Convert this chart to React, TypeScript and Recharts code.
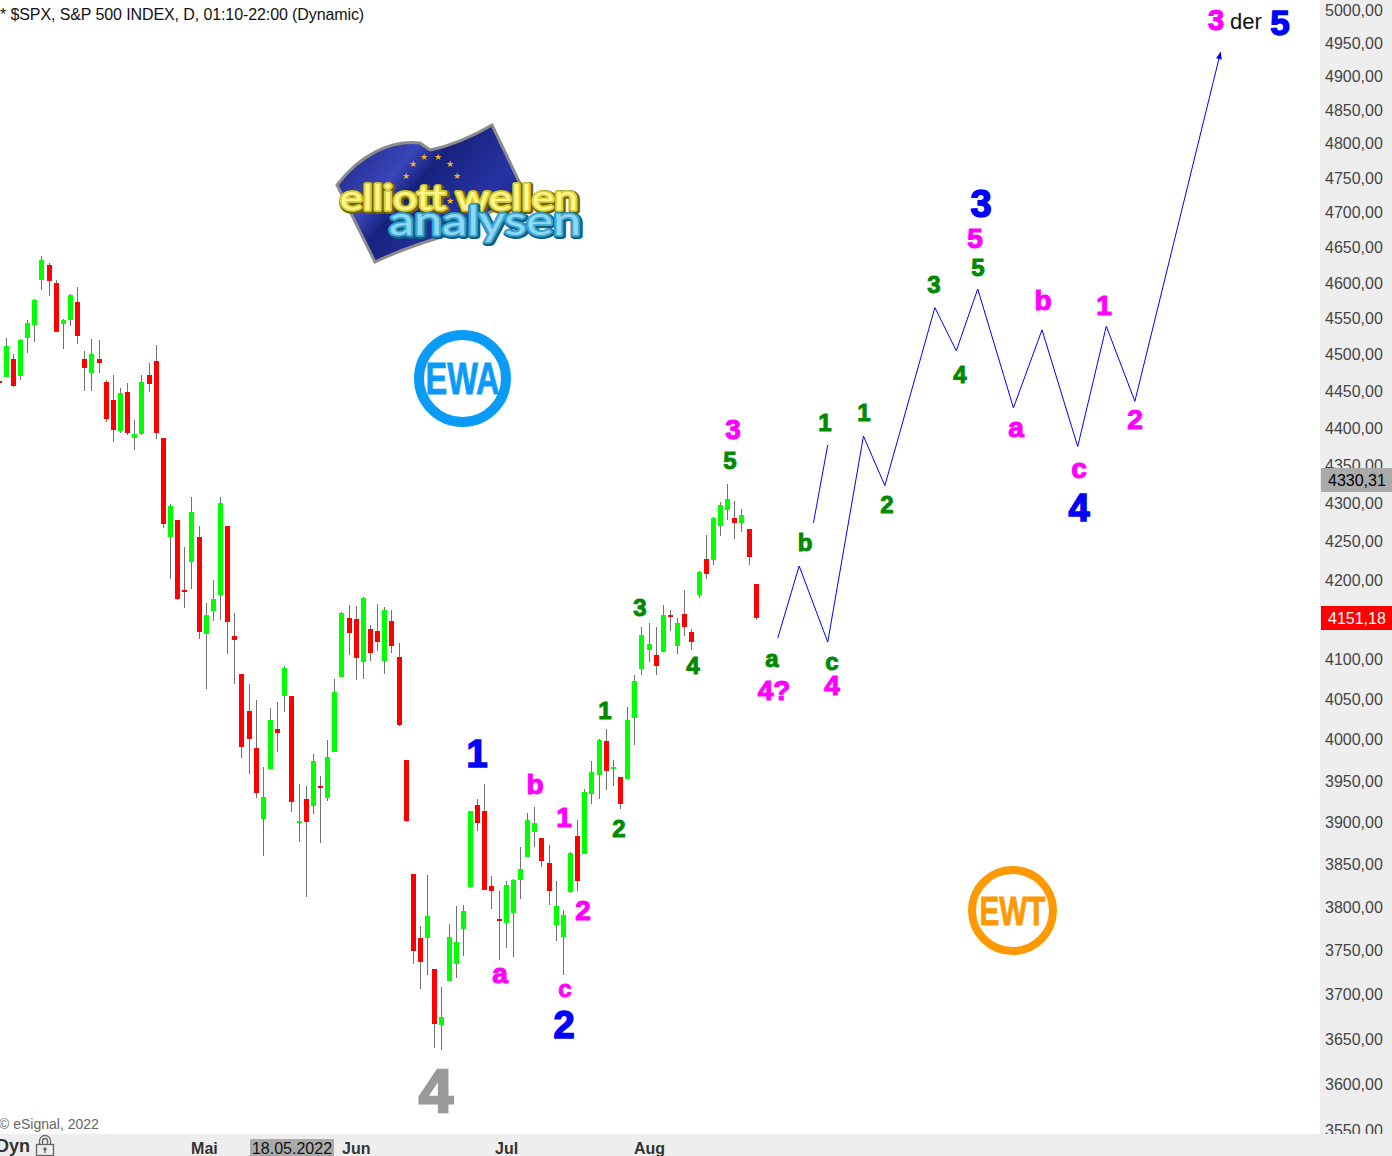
import React from "react";
import { ComposedChart, Bar, Line, XAxis, YAxis } from "recharts";

const opens = [4463,4469,4494,4471,4523,4541,4604,4625,4599,4541,4548,4573,4494,4475,4494,4462,4438,4395,4449,4387,4391,4472,4491,4387,4256,4278,4187,4223,4255,4131,4161,4181,4270,4129,4081,4035,3990,3904,3964,4013,4053,4053,3899,3928,3920,3944,3930,3985,4077,4152,4150,4096,4138,4135,4097,4148,4102,3975,3839,3764,3765,3729,3666,3715,3735,3775,3823,3921,3914,3825,3786,3782,3793,3832,3859,3888,3881,3852,3779,3765,3818,3884,3862,3935,3956,3998,3964,3954,3952,4026,4087,4112,4105,4108,4155,4116,4157,4134,4181,4227,4226,4270,4291,4280,4274,4266,4195];
const highs = [4463,4523,4501,4521,4547,4577,4638,4628,4604,4549,4584,4594,4505,4521,4520,4465,4472,4454,4461,4411,4472,4488,4513,4387,4299,4278,4242,4308,4270,4171,4200,4308,4270,4158,4081,4069,4049,3966,4039,4046,4091,4053,3946,3943,3982,3956,3999,4075,4159,4168,4167,4178,4143,4169,4166,4161,4120,3975,3839,3778,3838,3729,3708,3780,3801,3803,3914,3928,3946,3837,3819,3830,3833,3871,3911,3918,3881,3873,3830,3797,3865,3903,3940,3974,4001,4013,3975,3954,4040,4080,4140,4145,4140,4168,4162,4152,4187,4138,4212,4258,4282,4301,4325,4303,4292,4266,4195];
const lows = [4460,4469,4456,4465,4501,4517,4590,4581,4531,4507,4540,4514,4450,4450,4475,4408,4381,4393,4391,4371,4391,4449,4385,4268,4201,4175,4163,4189,4125,4063,4148,4149,4106,4069,3977,3958,3929,3859,3964,3985,4034,3912,3877,3811,3909,3876,3925,3985,4077,4105,4074,4075,4098,4110,4081,4107,4017,3900,3735,3706,3722,3640,3637,3715,3718,3744,3823,3890,3820,3799,3739,3752,3743,3810,3859,3870,3847,3803,3760,3722,3817,3819,3862,3922,3928,3939,3944,3915,3952,3993,4080,4096,4080,4108,4135,4107,4129,4112,4177,4201,4219,4257,4278,4253,4262,4219,4149];
const closes = [4460,4512,4457,4520,4544,4576,4632,4602,4531,4547,4583,4526,4481,4501,4488,4412,4397,4447,4393,4392,4462,4460,4393,4273,4296,4176,4185,4288,4133,4155,4176,4300,4147,4124,3991,4001,3935,3930,4024,4008,4088,3924,3901,3901,3974,3941,3979,4059,4158,4133,4101,4177,4108,4121,4161,4116,4018,3901,3750,3736,3790,3667,3675,3765,3760,3796,3913,3900,3821,3819,3784,3826,3832,3845,3903,3899,3854,3819,3801,3791,3864,3831,3936,3961,3999,3962,3967,3921,4024,4072,4130,4119,4091,4155,4152,4145,4140,4122,4210,4208,4280,4297,4305,4274,4284,4229,4152];

const forecastSlots = [109,112,116,121,124,131,134,137,142,146,151,155,159,171];
const forecastPrices = [4126,4218,4121,4389,4323,4565,4505,4591,4427,4534,4375,4539,4436,4936];
const altSlots = [114,116];
const altPrices = [4274,4377];

const yTicks = [3550,3600,3650,3700,3750,3800,3850,3900,3950,4000,4050,4100,4150,4200,4250,4300,4350,4400,4450,4500,4550,4600,4650,4700,4750,4800,4850,4900,4950,5000];
const monthSlots = [27,48,69,89];
const monthNames = ["Mai","Jun","Jul","Aug"];
const TOTAL_SLOTS = 185;

const rows = Array.from({ length: TOTAL_SLOTS }, (_, i) => {
  const has = i < opens.length;
  const f = forecastSlots.indexOf(i);
  const a = altSlots.indexOf(i);
  return {
    slot: i,
    open: has ? opens[i] : null,
    close: has ? closes[i] : null,
    range: has ? [lows[i], highs[i]] : null,
    body: has ? [Math.min(opens[i], closes[i]), Math.max(opens[i], closes[i])] : null,
    forecast: f >= 0 ? forecastPrices[f] : null,
    alt: a >= 0 ? altPrices[a] : null,
  };
});

const Wick = (p: any) => {
  if (!p.payload?.range || !isFinite(p.y) || !isFinite(p.height)) return null;
  return <rect x={Math.round(p.x)} y={Math.round(p.y)} width={1} height={Math.max(1, Math.round(p.height))} fill="#707070" shapeRendering="crispEdges" />;
};
const Body = (p: any) => {
  if (!p.payload?.body || !isFinite(p.y) || !isFinite(p.height)) return null;
  const up = p.payload.close >= p.payload.open;
  return <rect x={Math.round(p.x)} y={Math.round(p.y)} width={5} height={Math.max(2, Math.round(p.height))} fill={up ? "#00ff00" : "#ff0000"} shapeRendering="crispEdges" />;
};
const ArrowDot = (p: any) => {
  if (p.payload?.slot !== 171) return <g key={p.index} />;
  const { cx, cy } = p;
  return <polygon key={p.index} points={`${cx},${cy} ${cx - 3},${cy + 7} ${cx + 3},${cy + 7}`} fill="#0000ff" transform={`rotate(13.7 ${cx} ${cy})`} />;
};
const YTick = (p: any) => (
  <text x={p.x} y={p.y + 6} fontFamily="'Liberation Sans', Arial, sans-serif" fontSize={16} fill="#444" clipPath="url(#yclip)">
    {Number(p.payload.value).toFixed(2).replace(".", ",")}
  </text>
);
const XTick = (p: any) => {
  const name = monthNames[monthSlots.indexOf(p.payload.value)];
  const nudge = name === "Jul" ? 3 : name === "Jun" ? 0 : -1;
  return <text x={p.x + nudge} y={1154} fontFamily="'Liberation Sans', Arial, sans-serif" fontWeight="bold" fontSize={16} fill="#333">{name}</text>;
};

const SANS = "'Liberation Sans', Arial, sans-serif";
const Lbl = ({ x, y, t, c, s, w = "bold" }: any) => (
  <div style={{ position: "absolute", left: x - 60, top: y - s, width: 120, height: s * 2, lineHeight: `${s * 2}px`, textAlign: "center", fontFamily: SANS, fontWeight: w as any, fontSize: s, color: c, whiteSpace: "nowrap", WebkitTextStroke: w === "bold" ? `${s * 0.04}px ${c}` : undefined }}>{t}</div>
);
const G = "#008a00", M = "#ff00ff", B = "#0000ff";

const Ring = ({ cx, cy, r, sw, color, t, tw, fs }: any) => (
  <svg style={{ position: "absolute", left: cx - r - 8, top: cy - r - 8 }} width={2 * r + 16} height={2 * r + 16}>
    <circle cx={r + 8} cy={r + 8} r={r - sw / 2} fill="none" stroke={color} strokeWidth={sw} />
    <text x={r + 8} y={r + 8 + fs * 0.35} textAnchor="middle" fontFamily={SANS} fontWeight="bold" fontSize={fs} fill={color} stroke={color} strokeWidth={0.8} textLength={tw} lengthAdjust="spacingAndGlyphs">{t}</text>
  </svg>
);

const Glow = ({ x, y, fs, tw, t, dark, mid, light }: any) => (
  <g fontFamily="Lato, 'Open Sans', sans-serif" fontSize={fs} strokeLinejoin="round" strokeLinecap="round">
    <text x={x + 1} y={y + 1} stroke={dark} strokeWidth={6} fill={dark} textLength={tw} lengthAdjust="spacingAndGlyphs">{t}</text>
    <text x={x} y={y} stroke={mid} strokeWidth={3.6} fill={mid} textLength={tw} lengthAdjust="spacingAndGlyphs">{t}</text>
    <text x={x} y={y} fill={light} textLength={tw} lengthAdjust="spacingAndGlyphs">{t}</text>
  </g>
);

const Logo = () => (
  <svg style={{ position: "absolute", left: 320, top: 115 }} width={280} height={160}>
    <defs>
      <linearGradient id="flagG" x1="0" y1="0" x2="1" y2="0.6">
        <stop offset="0" stopColor="#17207a" />
        <stop offset="0.38" stopColor="#3a46b8" />
        <stop offset="0.5" stopColor="#17227e" />
        <stop offset="0.8" stopColor="#2733a4" />
        <stop offset="1" stopColor="#1b2588" />
      </linearGradient>
    </defs>
    <path d="M17,70 C40,40 70,25 100,28 L110,35 C135,30 155,20 172,10 L207,83 C180,92 160,100 135,118 C110,125 80,135 55,147 Z" fill="url(#flagG)" stroke="#8c8c8c" strokeWidth={3} />
    {[[93,52],[104,45],[118,45],[130,52],[137,64],[130,89],[86,64]].map(([x, y], i) => (
      <text key={i} x={x} y={y} textAnchor="middle" fontSize={9} fontFamily="'DejaVu Sans'" fill="#f0b020">★</text>
    ))}
    <Glow x={20} y={95} fs={35} tw={238} t="elliott wellen" dark="#6e6200" mid="#dccf3c" light="#fff68c" />
    <Glow x={69} y={120} fs={40} tw={192} t="analysen" dark="#0f5f85" mid="#3aa6d6" light="#8fd8f4" />
  </svg>
);

export default function App() {
  return (
    <div style={{ position: "absolute", left: 0, top: 0, width: 1392, height: 1156, overflow: "hidden", background: "#fff" }}>
      <div style={{ position: "absolute", left: 1320, top: 0, width: 72, height: 1156, background: "#eeeeee" }} />
      <div style={{ position: "absolute", left: 0, top: 1134, width: 1392, height: 22, background: "#eeeeee" }} />
      <svg width={0} height={0} style={{ position: "absolute" }}>
        <defs><clipPath id="yclip"><rect x={1320} y={0} width={72} height={1134} /></clipPath></defs>
      </svg>
      <Logo />
      <Ring cx={462.5} cy={378} r={48.5} sw={10} color="#0a9bf7" t="EWA" tw={74} fs={44} />
      <Ring cx={1012.5} cy={910.5} r={44.5} sw={8} color="#ff9900" t="EWT" tw={66} fs={40} />
      <div style={{ position: "absolute", left: 0, top: 0 }}>
        <ComposedChart width={1392} height={1156} data={rows} margin={{ top: 0, right: 0, bottom: 0, left: -4.37 }}>
          <XAxis xAxisId="main" dataKey="slot" type="category" interval={0} ticks={monthSlots} axisLine={false} tickLine={false} tickSize={0} height={22} tick={<XTick />} />
          <XAxis xAxisId="w" dataKey="slot" type="category" hide />
          <YAxis orientation="right" type="number" scale="log" domain={[3545.3, 5015.3]} allowDataOverflow ticks={yTicks} interval={0} width={75} axisLine={false} tickLine={false} tickSize={0} tickMargin={8} tick={<YTick />} />
          <Bar xAxisId="w" dataKey="range" barSize={1} isAnimationActive={false} shape={<Wick />} />
          <Bar xAxisId="main" dataKey="body" barSize={5} isAnimationActive={false} shape={<Body />} />
          <Line xAxisId="main" dataKey="forecast" stroke="#0000ff" strokeWidth={1} connectNulls dot={<ArrowDot />} activeDot={false} isAnimationActive={false} />
          <Line xAxisId="main" dataKey="alt" stroke="#0000ff" strokeWidth={1} connectNulls dot={false} activeDot={false} isAnimationActive={false} />
        </ComposedChart>
      </div>

      <div style={{ position: "absolute", left: 0, top: 6, fontFamily: SANS, fontSize: 16, lineHeight: "18px", letterSpacing: "-0.1px", color: "#111", whiteSpace: "nowrap" }}>* $SPX, S&amp;P 500 INDEX, D, 01:10-22:00 (Dynamic)</div>
      <div style={{ position: "absolute", left: -1, top: 1116, fontFamily: SANS, fontSize: 14, lineHeight: "16px", color: "#666", whiteSpace: "nowrap" }}>© eSignal, 2022</div>
      <div style={{ position: "absolute", left: -4, top: 1136, fontFamily: SANS, fontWeight: "bold", fontSize: 18, lineHeight: "20px", color: "#333", whiteSpace: "nowrap" }}>Dyn</div>
      <svg style={{ position: "absolute", left: 35, top: 1134 }} width={20} height={22}>
        <path d="M4.5,10 V7 a5.5,5.5 0 0 1 11,0 V10 M7.5,10 V7 a2.5,2.5 0 0 1 5,0 V10" fill="none" stroke="#666" strokeWidth={1.3} />
        <rect x={1.5} y={10.5} width={17} height={11} fill="none" stroke="#666" strokeWidth={1.3} />
        <circle cx={10} cy={15} r={1.7} fill="#666" />
        <rect x={9.3} y={15} width={1.4} height={4} fill="#666" />
      </svg>
      <div style={{ position: "absolute", left: 250, top: 1139, width: 84, height: 17, background: "#aaaaaa", fontFamily: SANS, fontSize: 16, lineHeight: "19px", textAlign: "center", color: "#111" }}>18.05.2022</div>
      <div style={{ position: "absolute", left: 1321, top: 468, width: 71, height: 24, background: "#aaaaaa", fontFamily: SANS, fontSize: 16, lineHeight: "26px", color: "#000", paddingLeft: 7, boxSizing: "border-box" }}>4330,31</div>
      <div style={{ position: "absolute", left: 1321, top: 606, width: 71, height: 24, background: "#ff0000", fontFamily: SANS, fontSize: 16, lineHeight: "26px", color: "#fff", paddingLeft: 7, boxSizing: "border-box" }}>4151,18</div>

      <Lbl x={1216} y={20} t="3" c={M} s={29} />
      <Lbl x={1246} y={22} t="der" c="#111" s={22} w="normal" />
      <Lbl x={1280} y={23} t="5" c={B} s={35} />
      <Lbl x={981} y={204} t="3" c={B} s={38} />
      <Lbl x={975} y={239} t="5" c={M} s={28} />
      <Lbl x={978} y={268} t="5" c={G} s={24} />
      <Lbl x={934} y={285} t="3" c={G} s={24} />
      <Lbl x={960} y={375} t="4" c={G} s={24} />
      <Lbl x={1043} y={301} t="b" c={M} s={28} />
      <Lbl x={1104} y={306} t="1" c={M} s={28} />
      <Lbl x={1016} y={428} t="a" c={M} s={28} />
      <Lbl x={1135} y={420} t="2" c={M} s={28} />
      <Lbl x={1079} y={469} t="c" c={M} s={28} />
      <Lbl x={1079} y={508} t="4" c={B} s={38} />
      <Lbl x={825} y={423} t="1" c={G} s={24} />
      <Lbl x={864} y={413} t="1" c={G} s={24} />
      <Lbl x={887} y={505} t="2" c={G} s={24} />
      <Lbl x={805} y={543} t="b" c={G} s={24} />
      <Lbl x={772} y={659} t="a" c={G} s={24} />
      <Lbl x={832} y={662} t="c" c={G} s={24} />
      <Lbl x={774} y={691} t="4?" c={M} s={28} />
      <Lbl x={832} y={686} t="4" c={M} s={28} />
      <Lbl x={733} y={430} t="3" c={M} s={28} />
      <Lbl x={730} y={461} t="5" c={G} s={24} />
      <Lbl x={640} y={608} t="3" c={G} s={24} />
      <Lbl x={693} y={666} t="4" c={G} s={24} />
      <Lbl x={605} y={711} t="1" c={G} s={24} />
      <Lbl x={619} y={829} t="2" c={G} s={24} />
      <Lbl x={477} y={754} t="1" c={B} s={38} />
      <Lbl x={535} y={785} t="b" c={M} s={28} />
      <Lbl x={564} y={818} t="1" c={M} s={28} />
      <Lbl x={583} y={911} t="2" c={M} s={28} />
      <Lbl x={500} y={974} t="a" c={M} s={28} />
      <Lbl x={565} y={989} t="c" c={M} s={24} />
      <Lbl x={564} y={1025} t="2" c={B} s={38} />
      <Lbl x={436} y={1091} t="4" c="#999999" s={62} />
    </div>
  );
}
